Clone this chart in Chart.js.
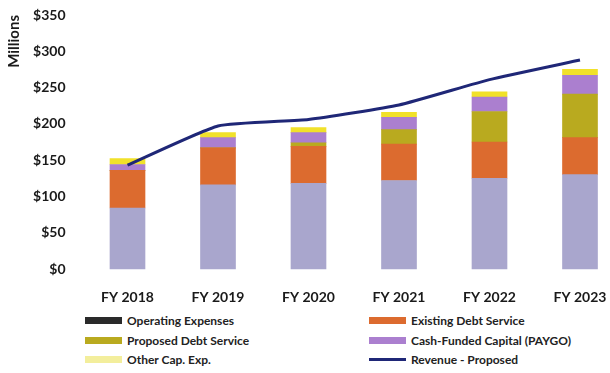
<!DOCTYPE html>
<html>
<head>
<meta charset="utf-8">
<script src="https://cdn.jsdelivr.net/npm/chart.js@4.4.1/dist/chart.umd.min.js"></script>
<style>
    html, body { margin: 0; padding: 0; background: #fff; }
    body { width: 610px; height: 373px; overflow: hidden; position: relative; font-family: Lato, "Open Sans", sans-serif; }
    #chart-box { position: absolute; left: 0; top: 0; width: 610px; height: 310px; }
    #legend { position: absolute; left: 0; top: 313px; width: 610px; height: 60px; }
    .legend-item { position: absolute; display: flex; align-items: center; font-size: 12px; font-weight: bold; color: #222; white-space: nowrap; }
    .legend-swatch { width: 37px; margin-right: 5px; }
</style>
</head>
<body>
<div id="chart-box"><canvas id="budgetChart"></canvas></div>
<div id="legend"></div>
<script>
// Fiscal years
const years = ['FY 2018', 'FY 2019', 'FY 2020', 'FY 2021', 'FY 2022', 'FY 2023'];

// Cost components, $ millions
const operatingExpenses = [84, 116, 118, 122, 125, 130];
const existingDebt = [52, 51, 51, 50, 50, 51];
const proposedDebt = [0, 0, 5, 20, 42, 60];
const paygoCapital = [8, 14, 14, 17, 20, 26];
const otherCapExp = [8, 7, 7, 7, 7, 8];

// Revenue under the proposed rates, $ millions
const revenueProposed = [143, 197, 206, 226, 261, 288];

// Y axis
const yTicks = [0, 50, 100, 150, 200, 250, 300, 350];

const textColor = '#1a1a1a';
const tickFont = { family: 'Lato', size: 14, weight: 'bold' };

function barSet(label, values, color, swatch) {
    return {
        type: 'bar',
        label: label,
        data: values,
        backgroundColor: color,
        swatch: swatch || color,
        barThickness: 35,
        clip: false,
        order: 1
    };
}

const datasets = [
    barSet('Operating Expenses', operatingExpenses, '#a9a6cd', '#2a2a2a'),
    barSet('Existing Debt Service', existingDebt, '#dc6b2f'),
    barSet('Proposed Debt Service', proposedDebt, '#b9aa1f'),
    barSet('Cash-Funded Capital (PAYGO)', paygoCapital, '#ab7fcf'),
    barSet('Other Cap. Exp.', otherCapExp, '#f1e12a', '#f3ee9c'),
    {
        type: 'line',
        label: 'Revenue - Proposed',
        data: revenueProposed,
        borderColor: '#1f2777',
        borderWidth: 3,
        pointRadius: 0,
        tension: 0.15,
        clip: false,
        order: 0,
        isLine: true
    }
];

// Legend in two columns under the chart
const htmlLegend = {
    id: 'htmlLegend',
    afterUpdate(chart) {
        const box = document.getElementById('legend');
        box.innerHTML = '';
        chart.data.datasets.forEach((ds, i) => {
            const item = document.createElement('div');
            item.className = 'legend-item';
            item.style.left = (i % 2 === 0 ? 85 : 369) + 'px';
            item.style.top = (Math.floor(i / 2) * 19.5) + 'px';
            const sw = document.createElement('span');
            sw.className = 'legend-swatch';
            sw.style.height = ds.isLine ? '3px' : '7px';
            sw.style.background = ds.isLine ? ds.borderColor : ds.swatch;
            const txt = document.createElement('span');
            txt.textContent = ds.label;
            item.appendChild(sw);
            item.appendChild(txt);
            box.appendChild(item);
        });
    }
};

const ctx = document.getElementById('budgetChart').getContext('2d');

new Chart(ctx, {
    data: {
        labels: years,
        datasets: datasets
    },
    options: {
        responsive: true,
        maintainAspectRatio: false,
        animation: false,
        layout: {
            padding: { left: 0, right: 30, top: 15, bottom: 0 }
        },
        scales: {
            x: {
                stacked: true,
                offset: false,
                grid: { display: false, drawTicks: false },
                border: { display: false },
                ticks: { color: textColor, font: tickFont, padding: 20, maxRotation: 0 },
                afterFit: function (scale) {
                    scale.height = 41;
                    scale.paddingLeft = 0;
                    scale.paddingRight = 0;
                }
            },
            y: {
                stacked: true,
                min: 0,
                max: 350,
                grid: { display: false, drawTicks: false },
                border: { display: false },
                afterBuildTicks: function (scale) {
                    scale.ticks = yTicks.map(v => ({ value: v }));
                },
                ticks: {
                    color: textColor,
                    font: tickFont,
                    padding: 62,
                    callback: function (value) {
                        return '$' + value;
                    }
                },
                title: {
                    display: true,
                    text: 'Millions',
                    align: 'end',
                    color: textColor,
                    font: { family: 'Lato', size: 15, weight: 'bold' },
                    padding: { top: 5, bottom: 0 }
                },
                afterFit: function (scale) {
                    scale.width = 127.5;
                    scale.paddingTop = 0;
                    scale.paddingBottom = 0;
                }
            }
        },
        plugins: {
            legend: { display: false },
            tooltip: { enabled: false }
        }
    },
    plugins: [htmlLegend]
});
</script>
</body>
</html>
